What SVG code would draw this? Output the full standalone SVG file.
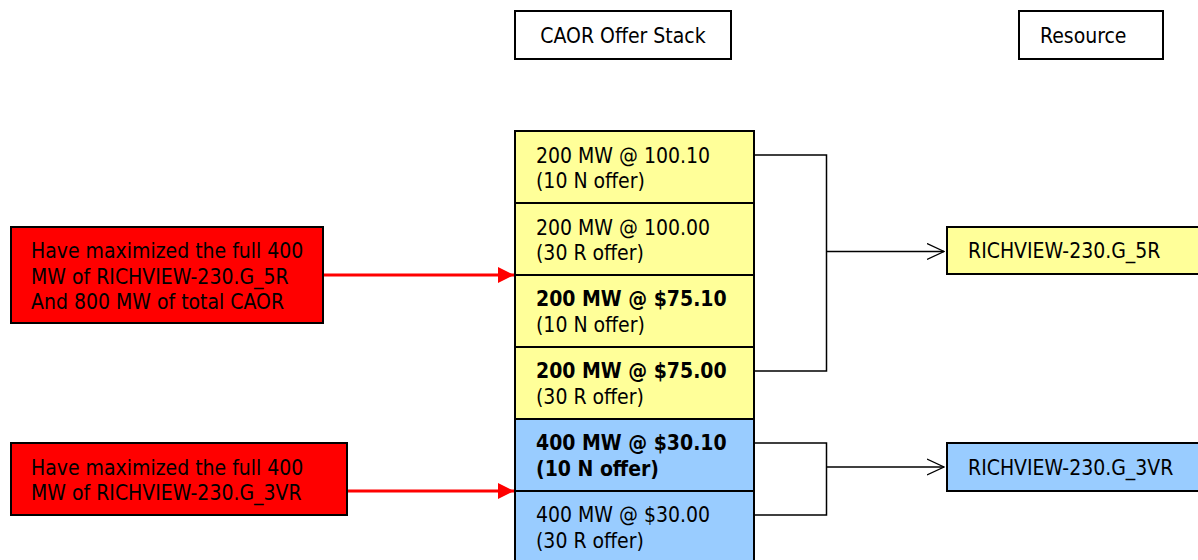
<svg xmlns="http://www.w3.org/2000/svg" width="1198" height="560" viewBox="0 0 1198 560">
  <defs>
    <style>
      text { font-family: "DejaVu Sans Condensed", "DejaVu Sans", sans-serif; font-stretch: condensed; font-size: 21px; fill: #000; }
      .b { font-weight: bold; }
      .box { stroke: #000; stroke-width: 2; }
      .hdr { fill: #fff; }
      .yel { fill: #ffff99; }
      .blu { fill: #99ccff; }
      .red { fill: #ff0000; }
      .wire { fill: none; stroke: #000; stroke-width: 1.5; }
      .redline { fill: none; stroke: #ff0000; stroke-width: 3; }
    </style>
    <marker id="open" viewBox="0 0 18 18" refX="17" refY="9" markerWidth="18" markerHeight="18" markerUnits="userSpaceOnUse" orient="auto">
      <path d="M0,1 L17,9 L0,17" fill="none" stroke="#000" stroke-width="1.3"/>
    </marker>
    <marker id="solid" viewBox="0 0 16 16" refX="16" refY="8" markerWidth="16" markerHeight="16" markerUnits="userSpaceOnUse" orient="auto">
      <path d="M0,0 L16,8 L0,16 Z" fill="#ff0000"/>
    </marker>
  </defs>

  <!-- column headers -->
  <g id="hdr-stack">
    <rect class="box hdr" x="515" y="11" width="216" height="48"/>
    <text x="623" y="43" text-anchor="middle">CAOR Offer Stack</text>
  </g>
  <g id="hdr-resource">
    <rect class="box hdr" x="1019" y="11" width="144" height="48"/>
    <text x="1040" y="43">Resource</text>
  </g>

  <!-- offer stack -->
  <g id="offer-1">
    <rect class="box yel" x="515" y="131" width="239" height="72"/>
    <text x="536" y="163">200 MW @ 100.10</text>
    <text x="536" y="188">(10 N offer)</text>
  </g>
  <g id="offer-2">
    <rect class="box yel" x="515" y="203" width="239" height="72"/>
    <text x="536" y="235">200 MW @ 100.00</text>
    <text x="536" y="260">(30 R offer)</text>
  </g>
  <g id="offer-3">
    <rect class="box yel" x="515" y="275" width="239" height="72"/>
    <text class="b" x="536" y="306">200 MW @ $75.10</text>
    <text x="536" y="332">(10 N offer)</text>
  </g>
  <g id="offer-4">
    <rect class="box yel" x="515" y="347" width="239" height="72"/>
    <text class="b" x="536" y="378">200 MW @ $75.00</text>
    <text x="536" y="404">(30 R offer)</text>
  </g>
  <g id="offer-5">
    <rect class="box blu" x="515" y="419" width="239" height="72"/>
    <text class="b" x="536" y="450">400 MW @ $30.10</text>
    <text class="b" x="536" y="476">(10 N offer)</text>
  </g>
  <g id="offer-6">
    <rect class="box blu" x="515" y="491" width="239" height="80"/>
    <text x="536" y="522">400 MW @ $30.00</text>
    <text x="536" y="548">(30 R offer)</text>
  </g>

  <!-- resources -->
  <g id="res-5r">
    <rect class="box yel" x="947" y="227" width="260" height="47"/>
    <text x="968" y="258">RICHVIEW-230.G_5R</text>
  </g>
  <g id="res-3vr">
    <rect class="box blu" x="947" y="443" width="260" height="48"/>
    <text x="968" y="475">RICHVIEW-230.G_3VR</text>
  </g>

  <!-- notes -->
  <g id="note-5r">
    <rect class="box red" x="11" y="227" width="312" height="96"/>
    <text x="31" y="258">Have maximized the full 400</text>
    <text x="31" y="284">MW of RICHVIEW-230.G_5R</text>
    <text x="31" y="309">And 800 MW of total CAOR</text>
  </g>
  <g id="note-3vr">
    <rect class="box red" x="11" y="443" width="336" height="72"/>
    <text x="31" y="475">Have maximized the full 400</text>
    <text x="31" y="500">MW of RICHVIEW-230.G_3VR</text>
  </g>

  <!-- connectors -->
  <g id="connectors">
    <path class="wire" d="M754,155 H826.5 V371 H754"/>
    <path class="wire" d="M826.5,251.5 H944" marker-end="url(#open)"/>
    <path class="wire" d="M754,443 H826.5 V515 H754"/>
    <path class="wire" d="M826.5,467 H944" marker-end="url(#open)"/>
    <path class="redline" d="M324,275 H514" marker-end="url(#solid)"/>
    <path class="redline" d="M348,491 H514" marker-end="url(#solid)"/>
  </g>
</svg>
